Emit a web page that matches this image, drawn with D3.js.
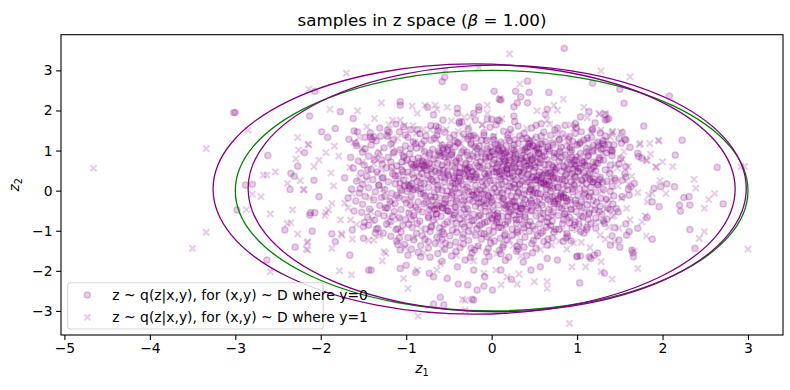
<!DOCTYPE html>
<html><head><meta charset="utf-8">
<script src="https://cdn.jsdelivr.net/npm/d3@7"></script>
<style>
body{margin:0;background:#fff}
svg text{font-family:"DejaVu Sans",sans-serif;fill:#000}
</style>
</head><body>
<svg id="chart" width="790" height="390"></svg>
<script>
// ---------------- data ----------------
const titleText = ["samples in z space (", "\u03B2", " = 1.00)"];
const xTicks = [-5,-4,-3,-2,-1,0,1,2,3];
const yTicks = [-3,-2,-1,0,1,2,3];
const seriesLabels = ["z ~ q(z|x,y), for (x,y) ~ D where y=0", "z ~ q(z|x,y), for (x,y) ~ D where y=1"];
// ellipses: centre x, centre y, radius x, radius y
const ellipseCx = [0, -0.205, 0.065];
const ellipseCy = [0, 0.04, 0.055];
const ellipseRx = [3.0, 3.055, 2.915];
const ellipseRy = [3.0, 3.12, 3.075];
const ellipseColors = ["green", "purple", "purple"];

// samples for y=0 (circles)
const z0Core = [
[-1.12,1.66],[-0.71,1.62],[-0.38,1.68],[0.05,1.64],[0.31,1.61],[0.58,1.67],[0.86,1.63],[1.21,1.69],
[-1.31,1.56],[-0.95,1.52],[-0.62,1.57],[-0.27,1.54],[-0.02,1.58],[0.22,1.53],[0.47,1.56],[0.74,1.51],[0.99,1.57],[1.18,1.54],
[-1.42,1.44],[-1.08,1.47],[-0.84,1.42],[-0.55,1.46],[-0.33,1.41],[-0.09,1.45],[0.14,1.48],[0.38,1.43],[0.61,1.46],[0.83,1.42],[1.05,1.47],[1.27,1.44],
[-1.22,1.36],[-0.98,1.33],[-0.77,1.37],[-0.49,1.32],[-0.21,1.38],[0.02,1.34],[0.19,1.31],[0.33,1.37],[0.52,1.33],[0.69,1.38],[0.91,1.35],[1.12,1.31],[1.33,1.36],[-0.64,1.39],
[-1.35,1.24],[-1.15,1.27],[-0.92,1.22],[-0.71,1.26],[-0.43,1.23],[-0.28,1.28],[-0.06,1.25],[0.11,1.21],[0.27,1.27],[0.44,1.24],[0.63,1.22],[0.79,1.28],[0.95,1.23],[1.08,1.26],[1.24,1.21],[0.36,1.29],
[-1.41,1.14],[-1.18,1.17],[-1.01,1.12],[-0.82,1.16],[-0.58,1.13],[-0.39,1.18],[-0.15,1.11],[0.04,1.16],[0.17,1.13],[0.31,1.18],[0.49,1.12],[0.57,1.17],[0.72,1.14],[0.88,1.11],[1.03,1.17],[1.19,1.13],[1.37,1.15],[-0.24,1.16],
[-1.48,1.04],[-1.26,1.07],[-1.07,1.02],[-0.88,1.06],[-0.69,1.03],[-0.51,1.08],[-0.33,1.01],[-0.17,1.05],[-0.01,1.09],[0.13,1.03],[0.24,1.06],[0.39,1.02],[0.53,1.07],[0.66,1.04],[0.81,1.08],[0.94,1.01],[1.11,1.05],[1.28,1.03],[0.08,1.06],[0.45,1.09],
[-1.51,0.96],[-1.33,0.93],[-1.14,0.97],[-0.96,0.92],[-0.79,0.98],[-0.61,0.94],[-0.47,0.91],[-0.29,0.96],[-0.12,0.93],[0.01,0.98],[0.16,0.94],[0.28,0.91],[0.42,0.97],[0.55,0.93],[0.68,0.99],[0.77,0.92],[0.92,0.96],[1.04,0.93],[1.18,0.97],[1.34,0.94],[-0.04,0.95],[0.61,0.96],
[-1.44,0.86],[-1.21,0.83],[-1.03,0.87],[-0.86,0.82],[-0.73,0.88],[-0.55,0.84],[-0.38,0.81],[-0.22,0.86],[-0.07,0.83],[0.09,0.88],[0.21,0.84],[0.35,0.87],[0.48,0.82],[0.59,0.86],[0.73,0.83],[0.86,0.89],[0.99,0.84],[1.13,0.86],[1.26,0.82],[1.41,0.87],[0.27,0.81],[-0.63,0.89],
[-1.56,0.74],[-1.37,0.77],[-1.18,0.72],[-0.99,0.76],[-0.84,0.73],[-0.68,0.78],[-0.52,0.71],[-0.41,0.75],[-0.26,0.79],[-0.13,0.72],[0.03,0.76],[0.15,0.73],[0.29,0.78],[0.41,0.74],[0.54,0.71],[0.65,0.77],[0.79,0.73],[0.91,0.78],[1.06,0.74],[1.19,0.71],[1.31,0.76],[-0.92,0.79],[0.47,0.77],[0.22,0.75],
[-1.49,0.64],[-1.28,0.67],[-1.11,0.62],[-0.94,0.66],[-0.77,0.63],[-0.63,0.68],[-0.46,0.61],[-0.31,0.65],[-0.18,0.69],[-0.04,0.62],[0.07,0.66],[0.19,0.63],[0.33,0.67],[0.46,0.62],[0.57,0.69],[0.71,0.64],[0.84,0.61],[0.97,0.66],[1.09,0.63],[1.24,0.68],[1.39,0.64],[-0.58,0.64],[0.26,0.61],[0.62,0.65],
[-1.62,0.56],[-1.41,0.53],[-1.23,0.57],[-1.05,0.52],[-0.89,0.58],[-0.71,0.54],[-0.57,0.51],[-0.43,0.56],[-0.28,0.53],[-0.14,0.58],[0.01,0.54],[0.12,0.51],[0.24,0.57],[0.38,0.53],[0.51,0.58],[0.63,0.52],[0.76,0.56],[0.89,0.53],[1.01,0.57],[1.16,0.54],[1.33,0.52],[-0.79,0.57],[0.44,0.55],[0.17,0.56],
[-1.53,0.44],[-1.34,0.47],[-1.16,0.42],[-0.98,0.46],[-0.82,0.43],[-0.66,0.48],[-0.51,0.41],[-0.37,0.45],[-0.23,0.49],[-0.08,0.42],[0.06,0.46],[0.18,0.43],[0.31,0.47],[0.43,0.41],[0.56,0.46],[0.69,0.43],[0.82,0.48],[0.94,0.42],[1.08,0.45],[1.22,0.49],[1.38,0.43],[-0.62,0.44],[0.36,0.45],[0.74,0.46],
[-1.46,0.36],[-1.27,0.33],[-1.09,0.37],[-0.91,0.32],[-0.75,0.38],[-0.59,0.34],[-0.44,0.31],[-0.31,0.36],[-0.17,0.33],[-0.03,0.38],[0.09,0.34],[0.22,0.31],[0.35,0.37],[0.47,0.33],[0.61,0.38],[0.72,0.32],[0.86,0.36],[0.98,0.33],[1.13,0.37],[1.27,0.34],[1.44,0.31],[-0.51,0.37],[0.14,0.36],[0.53,0.35],
[-1.58,0.24],[-1.39,0.27],[-1.21,0.22],[-1.03,0.26],[-0.87,0.23],[-0.71,0.28],[-0.55,0.21],[-0.39,0.25],[-0.25,0.29],[-0.11,0.22],[0.02,0.26],[0.16,0.23],[0.28,0.27],[0.41,0.21],[0.54,0.26],[0.67,0.23],[0.79,0.28],[0.93,0.22],[1.06,0.25],[1.19,0.29],[1.35,0.23],[-0.64,0.26],[0.36,0.24],[0.86,0.25],
[-1.51,0.16],[-1.32,0.13],[-1.13,0.17],[-0.96,0.12],[-0.79,0.18],[-0.63,0.14],[-0.48,0.11],[-0.34,0.16],[-0.19,0.13],[-0.06,0.18],[0.08,0.14],[0.21,0.11],[0.33,0.17],[0.46,0.13],[0.58,0.18],[0.71,0.12],[0.84,0.16],[0.97,0.13],[1.11,0.17],[1.24,0.14],[1.41,0.11],[-0.42,0.17],[0.26,0.16],[0.64,0.15],
[-1.64,0.04],[-1.44,0.07],[-1.25,0.02],[-1.07,0.06],[-0.91,0.03],[-0.74,0.08],[-0.58,0.01],[-0.43,0.05],[-0.29,0.09],[-0.14,0.02],[0.03,0.06],[0.14,0.03],[0.27,0.07],[0.39,0.01],[0.52,0.06],[0.64,0.03],[0.77,0.08],[0.89,0.02],[1.03,0.05],[1.16,0.09],[1.31,0.03],[-0.83,0.05],[0.45,0.04],[0.72,0.06],
[-1.55,-0.06],[-1.36,-0.03],[-1.17,-0.07],[-0.99,-0.02],[-0.83,-0.08],[-0.67,-0.04],[-0.52,-0.01],[-0.38,-0.06],[-0.23,-0.03],[-0.09,-0.08],[0.06,-0.04],[0.19,-0.01],[0.31,-0.06],[0.44,-0.03],[0.57,-0.08],[0.69,-0.02],[0.82,-0.06],[0.95,-0.03],[1.09,-0.07],[1.22,-0.04],[1.39,-0.02],[-0.46,-0.05],[0.12,-0.06],[0.51,-0.05],
[-1.48,-0.14],[-1.29,-0.17],[-1.11,-0.12],[-0.94,-0.16],[-0.78,-0.13],[-0.61,-0.18],[-0.47,-0.11],[-0.32,-0.15],[-0.18,-0.19],[-0.04,-0.12],[0.09,-0.16],[0.23,-0.13],[0.36,-0.17],[0.48,-0.11],[0.62,-0.16],[0.74,-0.13],[0.87,-0.18],[1.01,-0.12],[1.14,-0.15],[1.28,-0.19],[1.43,-0.13],[-0.71,-0.15],[0.29,-0.14],[0.81,-0.15],
[-1.59,-0.26],[-1.38,-0.23],[-1.19,-0.27],[-1.02,-0.22],[-0.86,-0.28],[-0.69,-0.24],[-0.54,-0.21],[-0.41,-0.26],[-0.26,-0.23],[-0.12,-0.28],[0.01,-0.24],[0.14,-0.21],[0.27,-0.26],[0.39,-0.23],[0.53,-0.27],[0.66,-0.22],[0.78,-0.26],[0.92,-0.23],[1.05,-0.28],[1.19,-0.24],[1.34,-0.21],[-0.33,-0.25],[0.46,-0.25],
[-1.51,-0.34],[-1.31,-0.37],[-1.13,-0.32],[-0.95,-0.36],[-0.79,-0.33],[-0.62,-0.38],[-0.48,-0.31],[-0.34,-0.35],[-0.19,-0.39],[-0.06,-0.32],[0.08,-0.36],[0.21,-0.33],[0.34,-0.37],[0.47,-0.31],[0.59,-0.36],[0.73,-0.33],[0.86,-0.38],[0.99,-0.32],[1.12,-0.35],[1.27,-0.39],[1.42,-0.33],[0.15,-0.35],
[-1.43,-0.46],[-1.24,-0.43],[-1.06,-0.47],[-0.89,-0.42],[-0.73,-0.48],[-0.57,-0.44],[-0.42,-0.41],[-0.28,-0.46],[-0.13,-0.43],[0.02,-0.48],[0.15,-0.44],[0.28,-0.41],[0.41,-0.46],[0.54,-0.43],[0.67,-0.47],[0.79,-0.42],[0.93,-0.46],[1.06,-0.43],[1.21,-0.48],[1.36,-0.44],[-0.64,-0.45],[0.35,-0.45],
[-1.52,-0.54],[-1.33,-0.57],[-1.14,-0.52],[-0.97,-0.56],[-0.81,-0.53],[-0.65,-0.58],[-0.51,-0.51],[-0.36,-0.55],[-0.21,-0.59],[-0.07,-0.52],[0.07,-0.56],[0.2,-0.53],[0.33,-0.57],[0.46,-0.51],[0.6,-0.56],[0.72,-0.53],[0.85,-0.58],[0.99,-0.52],[1.14,-0.55],[1.29,-0.59],[-0.43,-0.56],
[-1.45,-0.66],[-1.26,-0.63],[-1.08,-0.67],[-0.91,-0.62],[-0.74,-0.68],[-0.59,-0.64],[-0.44,-0.61],[-0.29,-0.66],[-0.15,-0.63],[0.0,-0.68],[0.13,-0.64],[0.26,-0.61],[0.39,-0.66],[0.52,-0.63],[0.66,-0.67],[0.78,-0.62],[0.91,-0.66],[1.05,-0.63],[1.22,-0.68],[0.19,-0.65],
[-1.37,-0.74],[-1.18,-0.77],[-1.01,-0.72],[-0.84,-0.76],[-0.68,-0.73],[-0.52,-0.78],[-0.37,-0.71],[-0.23,-0.75],[-0.08,-0.79],[0.06,-0.72],[0.19,-0.76],[0.32,-0.73],[0.45,-0.77],[0.58,-0.71],[0.71,-0.76],[0.84,-0.73],[0.98,-0.78],[1.13,-0.72],[1.31,-0.75],
[-1.44,-0.86],[-1.23,-0.83],[-1.04,-0.87],[-0.87,-0.82],[-0.7,-0.88],[-0.55,-0.84],[-0.41,-0.81],[-0.26,-0.86],[-0.11,-0.83],[0.03,-0.88],[0.16,-0.84],[0.29,-0.81],[0.43,-0.86],[0.56,-0.83],[0.69,-0.87],[0.83,-0.82],[0.97,-0.86],[1.16,-0.83],
[-1.33,-0.94],[-1.12,-0.97],[-0.93,-0.92],[-0.77,-0.96],[-0.61,-0.93],[-0.46,-0.98],[-0.32,-0.91],[-0.17,-0.95],[-0.03,-0.99],[0.11,-0.92],[0.24,-0.96],[0.38,-0.93],[0.51,-0.97],[0.64,-0.91],[0.79,-0.96],[0.94,-0.93],[1.11,-0.97],
[-1.27,-1.06],[-1.06,-1.03],[-0.88,-1.07],[-0.72,-1.02],[-0.56,-1.08],[-0.41,-1.04],[-0.27,-1.01],[-0.12,-1.06],[0.02,-1.03],[0.16,-1.08],[0.3,-1.04],[0.44,-1.01],[0.58,-1.06],[0.73,-1.03],[0.88,-1.07],[1.04,-1.02],
[-1.18,-1.14],[-0.98,-1.17],[-0.81,-1.12],[-0.64,-1.16],[-0.49,-1.13],[-0.34,-1.18],[-0.19,-1.11],[-0.05,-1.15],[0.1,-1.19],[0.24,-1.12],[0.39,-1.16],[0.54,-1.13],[0.71,-1.18],[0.89,-1.14],
[-1.11,-1.26],[-0.91,-1.23],[-0.74,-1.27],[-0.58,-1.22],[-0.42,-1.28],[-0.27,-1.24],[-0.12,-1.21],[0.03,-1.26],[0.18,-1.23],[0.33,-1.28],[0.49,-1.24],[0.66,-1.21],[0.84,-1.27],
[-1.02,-1.34],[-0.83,-1.37],[-0.66,-1.32],[-0.49,-1.36],[-0.33,-1.33],[-0.16,-1.38],[-0.01,-1.31],[0.14,-1.35],[0.3,-1.39],[0.47,-1.32],[0.65,-1.36],
[-0.94,-1.46],[-0.74,-1.43],[-0.55,-1.47],[-0.37,-1.42],[-0.2,-1.48],[-0.04,-1.44],[0.13,-1.41],[0.31,-1.46],[0.52,-1.43],
[-0.86,-1.54],[-0.63,-1.57],[-0.42,-1.52],[-0.23,-1.56],[-0.06,-1.53],[0.11,-1.58],[0.29,-1.51],[0.48,-1.55],
[-0.72,-1.66],[-0.47,-1.63],[-0.25,-1.67],[-0.03,-1.64],[0.2,-1.66],[0.41,-1.62],
[-0.58,-1.76],[-0.31,-1.73],[-0.08,-1.77],[0.16,-1.74],[0.37,-1.78]
];
const z0Dense = [
[-0.93,0.41],[-0.88,0.07],[-0.81,0.66],[-0.77,-0.29],[-0.72,0.93],[-0.69,0.24],[-0.64,-0.58],[-0.61,0.51],[-0.57,1.02],[-0.53,-0.13],[-0.5,0.77],[-0.46,0.19],[-0.43,-0.41],[-0.4,1.21],[-0.37,0.58],[-0.34,-0.83],[-0.31,0.02],[-0.28,0.88],[-0.25,0.34],[-0.22,-0.27],[-0.19,1.09],[-0.16,0.62],[-0.13,-0.61],[-0.1,0.11],[-0.07,0.79],[-0.04,0.43],[-0.01,-0.17],[0.02,1.27],[0.05,0.57],[0.08,-0.92],[0.11,0.29],[0.14,0.92],[0.17,-0.38],[0.2,0.69],[0.23,0.08],[0.26,1.14],[0.29,-0.72],[0.32,0.47],[0.35,0.81],[0.38,-0.09],[0.41,1.31],[0.44,0.22],[0.47,-0.49],[0.5,0.64],[0.53,1.02],[0.56,-0.21],[0.59,0.37],[0.62,0.86],[0.65,-0.78],[0.68,0.14],[0.71,1.19],[0.74,0.52],[0.77,-0.33],[0.8,0.97],[0.83,0.29],[0.86,-0.57],[0.89,0.71],[0.92,1.07],[0.95,0.04],[0.98,-0.24],[1.01,0.48],[1.04,1.21],[1.07,-0.66],[1.1,0.33],[1.13,0.88],[1.16,-0.06],[1.2,0.59],[1.25,1.12],[1.3,0.21],
[-1.17,0.58],[-1.09,-0.17],[-1.03,0.83],[-0.98,0.14],[-0.94,-0.72],[-0.89,1.17],[-0.85,0.36],[-0.8,-0.06],[-0.76,0.71],[-0.71,-0.91],[-0.67,1.31],[-0.63,0.03],[-0.6,0.86],[-0.56,-0.34],[-0.52,0.47],[-0.49,1.14],[-0.45,-0.69],[-0.42,0.72],[-0.39,0.08],[-0.35,0.96],[-0.32,-0.46],[-0.29,0.52],[-0.26,1.36],[-0.23,-0.11],[-0.2,0.27],[-0.17,0.84],[-0.14,-0.87],[-0.11,0.56],[-0.08,-0.38],[-0.05,1.04],[-0.02,0.24],[0.01,0.67],[0.04,-0.62],[0.07,1.13],[0.1,0.41],[0.13,-0.19],[0.16,0.74],[0.19,1.39],[0.22,-0.53],[0.25,0.36],[0.28,0.97],[0.31,-0.03],[0.34,0.58],[0.37,-0.84],[0.4,0.83],[0.43,1.16],[0.46,0.03],[0.49,0.49],[0.52,-0.37],[0.55,0.93],[0.58,1.36],[0.61,0.21],[0.64,-0.11],[0.67,0.66],[0.7,-0.61],[0.73,0.94],[0.76,0.31],[0.79,1.26],[0.82,-0.44],[0.85,0.58],[0.88,0.12],[0.91,-0.81],[0.94,0.83],[0.97,0.36],[1.0,1.14],[1.03,-0.38],[1.06,0.69],[1.09,0.04],[1.12,-0.91],[1.15,0.44],[1.19,1.01],[1.23,-0.29],[1.27,0.77],
[-1.28,0.31],[-1.22,-0.43],[-1.15,0.94],[-1.1,-0.95],[-1.04,0.47],[-1.0,-0.31],[-0.95,1.05],[-0.91,0.63],[-0.86,-0.47],[-0.83,0.19],[-0.79,1.24],[-0.74,-0.64],[-0.7,0.42],[-0.66,-0.16],[-0.62,0.98],[-0.58,-1.03],[-0.55,0.32],[-0.51,-0.51],[-0.47,0.89],[-0.44,1.39],[-0.41,-0.22],[-0.38,0.44],[-0.33,-1.09],[-0.3,0.69],[-0.27,-0.02],[-0.24,1.19],[-0.21,-0.74],[-0.18,0.41],[-0.15,-0.31],[-0.12,0.97],[-0.09,-1.08],[-0.06,0.36],[-0.03,0.86],[0.0,-0.29],[0.03,0.47],[0.06,-0.79],[0.09,0.98],[0.12,0.16],[0.15,-1.12],[0.18,0.54],[0.21,1.24],[0.24,-0.27],[0.27,0.73],[0.3,-0.98],[0.33,0.14],[0.36,1.02],[0.39,-0.61],[0.42,0.39],[0.45,0.87],[0.48,-0.88],[0.51,0.26],[0.54,-0.06],[0.57,0.78],[0.6,-1.01],[0.63,0.44],[0.66,1.09],[0.69,-0.27],[0.72,0.59],[0.75,-0.96],[0.78,0.08],[0.81,0.83],[0.84,-0.18],[0.87,0.41],[0.9,1.28],[0.93,-0.47],[0.96,0.16],[0.99,0.76],[1.02,-0.83],[1.05,0.27],[1.08,-0.11],[1.11,0.96],[1.14,-0.58],[1.18,0.21],[1.22,0.69],[1.26,-0.52],
[-1.72,0.32],[-1.68,-0.18],[-1.65,0.83],[-1.61,-0.51],[-1.58,1.12],[-1.54,0.05],[-1.49,-0.79],[-1.45,0.52],[-1.4,1.28],[-1.35,-0.96],[-1.32,0.14],[-1.29,0.77],[-1.25,-0.14],[-1.2,1.46],[-1.16,-0.64],[-1.13,0.37],[-1.08,-1.18],[-1.05,0.72],[-1.01,1.39],[-0.97,-0.84],[-0.92,0.01],[-0.87,1.52],[-0.78,-1.21],[-0.65,1.61],[-0.54,-1.31],[-0.35,1.71],[-0.24,-1.43],[-0.05,1.78],[0.09,-1.49],[0.27,1.72],[0.38,-1.41],[0.52,1.63],[0.61,-1.27],[0.77,1.56],[0.87,-1.18],[0.98,1.43],[1.08,-1.06],[1.17,1.33],[1.22,-0.94],[1.3,1.18],[1.35,-0.71],[1.41,0.97],[1.46,-0.45],[1.49,0.66],[1.53,-0.15],[1.57,0.34],[1.6,0.03],[1.45,0.26],[1.52,1.18],[1.44,-0.92]
];
const z0Clumps = [
[0.04,0.91],[0.12,0.86],[0.17,0.97],[0.08,1.02],[-0.02,0.84],[0.21,0.89],[0.14,0.79],[0.01,0.97],[0.26,1.01],[0.09,0.71],
[-0.33,0.42],[-0.27,0.36],[-0.38,0.31],[-0.22,0.47],[-0.31,0.53],[-0.41,0.46],[-0.19,0.33],[-0.36,0.24],[-0.26,0.58],[-0.44,0.37],
[0.58,0.31],[0.64,0.24],[0.55,0.39],[0.69,0.36],[0.61,0.18],[0.52,0.27],[0.72,0.29],[0.66,0.43],[0.57,0.21],[0.49,0.34],
[-0.79,0.62],[-0.84,0.55],[-0.73,0.68],[-0.88,0.66],[-0.76,0.51],[-0.69,0.59],[-0.92,0.58],[-0.81,0.74],
[0.28,-0.38],[0.34,-0.44],[0.23,-0.47],[0.37,-0.33],[0.31,-0.52],[0.19,-0.36],[0.42,-0.41],[0.26,-0.29],
[0.98,0.62],[1.04,0.55],[0.93,0.67],[1.08,0.71],[1.01,0.47],[0.91,0.53],[1.12,0.61],[0.97,0.76],
[-0.12,-0.08],[-0.04,-0.14],[-0.17,-0.03],[-0.07,0.02],[-0.15,-0.19],[0.01,-0.06],[-0.21,-0.11],[-0.09,-0.24],
[0.48,1.12],[0.55,1.05],[0.44,1.18],[0.59,1.16],[0.51,0.98],[0.41,1.07],
[-0.58,-0.42],[-0.64,-0.35],[-0.53,-0.49],[-0.67,-0.47],[-0.55,-0.31],[-0.71,-0.39],
[0.78,-0.21],[0.84,-0.14],[0.74,-0.28],[0.88,-0.26],[0.81,-0.09],[0.71,-0.16],
[-0.52,1.01],[-0.46,0.95],[-0.57,1.07],[-0.43,1.09],[-0.55,0.92],
[0.18,0.52],[0.24,0.45],[0.13,0.58],[0.27,0.56],[0.21,0.41],[0.09,0.49],
[-1.02,0.12],[-0.96,0.05],[-1.07,0.19],[-0.94,0.17],[-1.05,0.01],
[0.01,-0.71],[0.07,-0.64],[-0.05,-0.77],[0.09,-0.79],[-0.03,-0.62],
[1.19,0.22],[1.24,0.15],[1.15,0.28],[1.27,0.27],
[0.38,0.71],[0.44,0.66],[0.34,0.77],[0.47,0.78],[0.41,0.62],
[-0.18,1.31],[-0.12,1.26],[-0.24,1.37],[-0.09,1.38]
];
const z0Outer = [
[-3.02,1.95],[-3.0,1.95],[-2.13,1.86],[-2.19,0.95],[-2.62,0.88],[-2.27,0.61],[-2.35,0.43],[-2.31,0.36],[-2.88,0.14],[-2.8,0.16],[-2.36,0.03],[-2.98,-0.48],[-2.42,-0.98],[-2.3,-1.41],[-2.63,-1.73],[-2.13,-0.61],
[-2.07,2.48],[-1.77,1.97],[-1.62,1.8],[-1.07,2.22],[-1.07,2.13],[-0.75,2.08],[-0.4,2.05],[-0.4,1.93],[-0.58,2.72],[-0.55,2.83],[-0.32,2.58],[-0.15,2.09],[-0.15,2.01],[0.03,2.48],[0.11,2.26],[0.28,2.48],[0.34,2.34],[0.42,2.73],[0.44,2.45],[0.42,2.19],[0.67,2.45],[0.26,2.09],[0.26,1.86],[0.3,2.19],[0.65,2.03],[0.63,1.9],[0.0,1.78],[0.07,1.76],[0.09,1.74],[0.09,2.28],[-0.21,1.93],[-0.19,1.76],[-0.68,1.89],[-0.57,1.76],[-0.38,1.72],[-1.99,1.47],[-1.83,1.55],[-1.92,1.33],[-1.67,1.28],[-1.59,1.18],[-1.61,1.49],[-1.57,1.47],[-1.03,1.59],[-1.22,1.51],[-0.63,1.49],[-1.3,1.36],[-1.48,1.33],[-1.38,1.34],[-1.42,1.34],
[0.85,3.55],[1.18,2.68],[1.5,2.53],[2.08,2.36],[1.55,2.18],[1.14,1.97],[1.33,1.9],[1.35,1.78],[1.04,1.84],[1.78,1.61],[1.53,1.45],[1.56,1.28],[2.23,1.26],[1.62,1.08],[1.72,0.85],[1.76,0.81],[2.15,0.89],[2.64,0.58],[1.3,1.24],[1.32,1.14],[1.43,1.14],[1.41,1.01],[1.18,1.51],[0.98,1.68],
[2.31,-0.15],[2.25,-0.17],[2.32,-0.36],[2.71,-0.33],[2.2,-0.36],[2.21,-0.51],[2.32,-0.97],[2.38,-1.44],[2.14,0.1],[2.05,0.17],[1.98,0.1],[1.96,-0.4],[1.82,-0.67],[1.71,-0.94],[1.61,-1.02],[1.88,-1.21],[1.64,-1.48],[1.65,-1.55],[1.5,-1.41],[1.39,-1.36],[1.49,-1.23],[1.41,-1.13],[1.32,-2.06],[1.03,-2.3],[1.16,-1.69],[1.0,-1.65],[0.77,-1.73],[0.65,-1.69],
[-0.6,-2.66],[-0.23,-2.71],[-0.39,-2.33],[-0.28,-2.35],[-0.17,-2.48],[-0.09,-2.38],[0.01,-2.48],[-0.68,-2.15],[-0.89,-2.04],[-1.0,-1.86],[-1.07,-1.94],[-1.44,-1.98],[-1.41,-1.98],[-1.66,-1.61],[-1.63,-0.98],[-1.87,-1.08],[-1.83,-1.27],[-1.5,-0.9],[-1.5,-1.19],[-2.1,-1.01],[-1.36,-1.06],[-1.07,-1.48],[-1.1,-1.34],[-0.98,-1.61],[-0.83,-1.65],[-0.73,-2.06],[-0.52,-2.19],[-0.21,-1.98],[0.11,-1.98],[0.23,-2.21],[0.46,-1.98],[0.57,-1.9],[-0.4,-1.9],[-0.08,-2.15],[-2.12,-0.55],[-2.07,-0.55],[-2.08,0.26],[-2.02,-0.15],[-0.68,-2.83],[-0.56,-2.85],[-0.21,-2.73],
[1.71,0.93],[1.9,0.06],[1.88,-0.28],[1.66,-1.65],[1.56,0.43],[1.53,0.26],[1.63,0.1],[1.67,0.18],[1.61,-0.11],[1.48,-0.53],[1.39,-0.48],[1.32,-0.82],[1.57,-0.83],[1.58,-1.11],[1.2,-1.61],[1.24,-1.56],[1.14,-1.65],[1.0,-1.63],[1.04,-1.63],[0.93,-1.25],[1.37,1.8],[1.33,1.76],[1.49,1.3],[1.57,1.26],[1.3,1.05],[1.39,1.01],[1.51,0.81],[1.57,0.6]
];

// samples for y=1 (crosses)
const z1Core = [
[-1.85,0.12],[-1.72,-0.31],[-1.66,0.58],[-1.58,-0.84],[-1.52,1.05],[-1.47,0.27],[-1.41,-0.52],[-1.36,0.81],[-1.31,-1.12],[-1.27,0.04],[-1.22,1.38],[-1.18,-0.23],[-1.14,0.49],[-1.09,-0.71],[-1.05,0.96],[-1.01,-1.42],[-0.97,0.18],[-0.93,-0.38],[-0.9,1.21],[-0.86,0.63],[-0.83,-0.95],[-0.79,0.31],[-0.76,-0.12],[-0.72,1.52],[-0.69,-0.61],[-0.66,0.77],[-0.62,-1.28],[-0.59,0.09],[-0.56,0.44],[-0.53,-0.34],[-0.5,1.07],[-0.47,-0.82],[-0.44,0.22],[-0.41,-1.61],[-0.38,0.68],[-0.35,-0.07],[-0.32,1.33],[-0.29,-0.49],[-0.26,0.37],[-0.23,-1.05],[-0.2,0.91],[-0.17,0.02],[-0.14,-0.67],[-0.11,1.64],[-0.08,0.53],[-0.05,-0.27],[-0.02,-1.19],[0.01,0.81],[0.04,0.14],[0.07,-0.58],[0.1,1.18],[0.13,-0.91],[0.16,0.42],[0.19,-0.16],[0.22,1.46],[0.25,-1.37],[0.28,0.66],[0.31,0.05],[0.34,-0.42],[0.37,0.97],[0.4,-0.76],[0.43,0.28],[0.46,1.29],[0.49,-0.09],[0.52,-1.14],[0.55,0.58],[0.58,0.12],[0.61,-0.53],[0.64,1.02],[0.67,-0.87],[0.7,0.35],[0.73,-0.21],[0.76,1.41],[0.79,-1.26],[0.82,0.74],[0.85,0.01],[0.88,-0.64],[0.91,1.13],[0.94,0.46],[0.97,-0.36],[1.0,-0.98],[1.03,0.87],[1.06,0.19],[1.09,-0.51],[1.12,1.27],[1.15,-0.14],[1.18,0.62],[1.21,-0.79],[1.24,0.31],[1.27,-1.11],[1.31,0.94],[1.35,-0.28],[1.39,0.52],[1.43,-0.62],[1.48,0.11],[1.53,0.78],[1.58,-0.44],[1.64,0.36],[1.71,-0.05],
[-1.95,-0.62],[-1.79,0.86],[-1.63,-0.07],[-1.55,1.33],[-1.44,-1.24],[-1.34,0.42],[-1.25,-0.44],[-1.16,1.12],[-1.07,-0.09],[-0.99,0.71],[-0.91,-1.17],[-0.84,0.02],[-0.78,0.94],[-0.71,-0.46],[-0.64,1.28],[-0.57,-0.93],[-0.51,0.59],[-0.45,-0.18],[-0.39,1.48],[-0.33,-0.71],[-0.27,0.16],[-0.21,1.02],[-0.15,-1.41],[-0.09,0.33],[-0.03,-0.43],[0.03,1.36],[0.09,-0.02],[0.15,0.73],[0.21,-1.23],[0.27,0.24],[0.33,-0.62],[0.39,1.09],[0.45,-0.31],[0.51,0.84],[0.57,-1.47],[0.63,0.17],[0.69,-0.44],[0.75,0.61],[0.81,-0.11],[0.87,1.32],[0.93,-0.72],[0.99,0.26],[1.05,-1.29],[1.11,0.73],[1.17,-0.37],[1.23,1.05],[1.29,-0.02],[1.37,-0.91],[1.45,0.67],[1.52,-0.19],
[-1.38,0.67],[-1.21,-0.86],[-1.12,0.29],[-0.96,-0.55],[-0.88,1.43],[-0.81,0.53],[-0.74,-0.22],[-0.67,0.12],[-0.61,-1.09],[-0.54,0.86],[-0.48,-0.61],[-0.42,0.34],[-0.36,1.17],[-0.3,-0.31],[-0.24,0.64],[-0.18,-0.86],[-0.12,0.27],[-0.06,1.26],[0.0,-0.51],[0.06,0.47],[0.12,-0.24],[0.18,0.98],[0.24,-0.71],[0.3,0.39],[0.36,-1.02],[0.42,0.71],[0.48,0.02],[0.54,1.21],[0.6,-0.33],[0.66,0.49],[0.72,-0.98],[0.78,0.22],[0.84,0.93],[0.9,-0.18],[0.96,0.63],[1.02,-0.67],[1.08,0.41],[1.14,1.08],[1.2,-0.46],[1.26,0.18],[-1.02,1.63],[-0.47,1.74],[0.12,1.79],[0.68,1.66],[-1.68,-0.43],[-1.51,0.71],[-1.26,-1.52],[-0.79,-1.55],[-0.21,-1.75],[0.34,-1.63],[0.88,-1.46],[1.33,-1.21],[1.62,-0.73],[1.55,0.97],[1.41,1.42],[-1.88,0.44],[-1.76,-1.07],[-1.61,1.21],[-0.05,1.93],[-0.6,-1.82],
[-1.31,0.96],[-1.17,-0.34],[-1.06,0.62],[-0.95,-0.21],[-0.82,1.08],[-0.73,0.27],[-0.65,-0.77],[-0.55,0.62],[-0.46,-0.04],[-0.37,0.83],[-0.27,-0.58],[-0.19,0.47],[-0.09,1.11],[0.0,0.08],[0.08,0.68],[0.17,-0.82],[0.26,0.91],[0.35,0.31],[0.44,-0.23],[0.53,0.79],[0.62,-0.68],[0.71,0.47],[0.8,1.09],[0.89,-0.29],[0.98,0.56],[1.07,-0.89],[1.16,0.32],[1.25,0.87],[1.34,-0.45],[-1.42,-0.17],[-1.29,0.53],[-1.2,-0.68],[-1.1,1.31],[-1.01,0.37],[-0.9,-0.63],[-0.8,0.81],[-0.7,-0.37],[-0.6,1.16],[-0.5,0.27],[-0.4,-0.96],[-0.3,0.57],[-0.2,-0.09],[-0.1,0.73],[0.02,-0.33],[0.11,1.03],[0.2,0.22],[0.29,-1.09],[0.38,0.54],[0.47,1.27],[0.56,-0.57],[0.65,0.07],[0.74,0.87],[0.83,-0.98],[0.92,0.31],[1.01,1.17],[1.1,-0.24],[1.19,0.51],[1.28,-0.78],[1.4,0.27],[-1.55,0.31],[-1.4,-0.73],[-0.58,-1.44],[0.06,-1.57],[0.7,-1.36],[1.15,-1.42],[-0.92,1.62],[-0.28,1.59],[0.41,1.55],[0.99,1.61],[1.6,0.16]
];
const z1Outer = [
[-2.85,1.51],[-3.34,1.05],[-4.66,0.56],[-2.14,2.53],[-2.27,1.33],[-2.15,1.16],[-2.26,1.01],[-2.29,0.79],[-2.67,0.39],[-2.63,0.39],[-2.53,0.47],[-2.8,-0.09],[-2.7,-0.15],[-2.39,0.18],[-2.24,0.25],[-2.2,0.03],[-2.87,-0.47],[-2.59,-0.58],[-2.33,-0.48],[-2.39,-0.82],[-2.35,-0.8],[-2.27,-1.08],[-2.16,-1.3],[-2.17,-1.46],[-3.34,-1.04],[-3.5,-1.44],[-2.59,-2.02],
[-1.7,2.93],[-1.89,2.03],[-1.57,1.99],[-1.29,2.19],[-0.93,2.11],[-0.87,1.93],[-0.78,2.13],[-0.66,2.13],[-0.64,2.03],[-0.52,2.08],[-0.32,1.83],[-0.54,3.01],[-0.15,3.07],[0.21,3.41],[0.1,2.3],[0.33,2.66],[0.53,1.99],[0.65,1.76],[-0.05,2.13],[-0.25,1.84],[-0.11,1.64],[-2.14,1.14],[-1.84,1.11],[-1.94,0.95],[-2.02,0.76],[-2.08,0.6],[-1.46,1.59],[-1.37,1.8],[-1.2,1.64],[-1.16,1.76],[-1.07,1.76],[-0.8,1.53],[-0.53,1.53],
[1.28,2.99],[1.62,2.84],[0.84,2.28],[0.73,2.13],[0.77,2.01],[1.08,2.08],[1.26,1.9],[1.12,1.82],[1.28,1.51],[1.42,1.47],[1.95,1.26],[1.85,1.18],[1.73,1.15],[1.81,0.75],[1.92,0.6],[2.0,0.72],[2.12,0.6],[2.92,0.6],[2.96,0.6],[1.39,1.34],[0.96,1.55],[0.93,1.64],
[2.37,0.28],[2.39,0.06],[2.61,-0.07],[2.54,-0.22],[2.49,-0.44],[2.49,-1.02],[2.43,-1.19],[3.0,-1.46],[1.97,0.25],[2.04,-0.07],[1.88,-0.07],[1.82,-0.28],[1.76,-0.78],[1.81,-1.13],[1.71,-1.94],[1.41,-2.21],[1.28,-2.02],[0.65,-2.27],[0.65,-2.44],[1.1,-1.9],[0.94,-1.9],[1.49,-0.94],
[-0.34,-2.71],[-0.86,-3.13],[-0.98,-2.44],[0.11,-2.35],[0.3,-2.33],[-1.03,-2.19],[-1.28,-1.75],[-1.64,-2.1],[-1.78,-2.0],[-1.63,-1.21],[-1.75,-1.11],[-1.87,-1.44],[-2.15,-1.27],[-2.15,-1.48],[-1.38,-1.23],[-1.24,-1.56],[-0.87,-1.98],[-0.64,-1.98],[0.18,-2.15],[0.05,-1.98],[0.5,-2.27],[-0.09,-2.06],[0.32,-2.08],[-1.91,-0.48],[-1.87,-0.32],[-2.2,0.02],[-1.94,-0.55],[-1.77,-0.73],[-1.65,-0.73],[-0.31,-2.73],[0.91,-3.31],[-0.31,-2.98],
[1.74,1.18],[1.96,1.24],[1.86,0.91],[1.82,0.76],[1.93,0.58],[1.84,-0.11],[1.8,-0.63],[1.67,-1.5],[1.6,0.6],[1.37,-0.23],[1.41,-0.65],[1.44,-1.27],[1.28,-1.77],[0.96,-1.31],[1.33,1.93],[1.26,1.93],[1.51,1.47],[1.41,1.47],[1.26,1.18],[1.35,1.26],[1.16,1.47],[1.47,0.56]
];
const z0 = z0Core.concat(z0Dense, z0Clumps, z0Outer);
const z1 = z1Core.concat(z1Outer);

// ---------------- drawing ----------------
const svg = d3.select("#chart");
const L = 61, R = 783, T = 34.7, B = 335;
const x = d3.scaleLinear().domain([-5.04, 3.41]).range([L, R]);
const y = d3.scaleLinear().domain([-3.6, 3.89]).range([B, T]);
const purple = "#800080";
const fmt = d => (d < 0 ? "\u2212" + Math.abs(d) : String(d));

svg.append("rect").attr("width", 790).attr("height", 390).attr("fill", "#fff");
svg.append("defs").append("clipPath").attr("id", "clip")
  .append("rect").attr("x", L).attr("y", T).attr("width", R - L).attr("height", B - T);

const plot = svg.append("g").attr("clip-path", "url(#clip)");

plot.append("g").selectAll("circle").data(z0).join("circle")
  .attr("cx", d => x(d[0])).attr("cy", d => y(d[1])).attr("r", 3.1)
  .attr("fill", purple).attr("fill-opacity", 0.2)
  .attr("stroke", purple).attr("stroke-opacity", 0.2).attr("stroke-width", 1.5);

const crossPath = d3.symbol().type(d3.symbolX).size(27)();
plot.append("g").selectAll("path").data(z1).join("path")
  .attr("d", crossPath)
  .attr("transform", d => `translate(${x(d[0])},${y(d[1])})`)
  .attr("fill", "none").attr("stroke", purple).attr("stroke-opacity", 0.2).attr("stroke-width", 2);

plot.append("g").selectAll("ellipse").data(ellipseCx).join("ellipse")
  .attr("cx", (d, i) => x(ellipseCx[i]))
  .attr("cy", (d, i) => y(ellipseCy[i]))
  .attr("rx", (d, i) => x(ellipseCx[i] + ellipseRx[i]) - x(ellipseCx[i]))
  .attr("ry", (d, i) => y(ellipseCy[i]) - y(ellipseCy[i] + ellipseRy[i]))
  .attr("fill", "none").attr("stroke", (d, i) => ellipseColors[i]).attr("stroke-width", 1.3);

// axes
const xAxis = svg.append("g").attr("transform", `translate(0,${B})`)
  .call(d3.axisBottom(x).tickValues(xTicks).tickFormat(fmt).tickSize(4.9).tickPadding(3.6));
const yAxis = svg.append("g").attr("transform", `translate(${L},0)`)
  .call(d3.axisLeft(y).tickValues(yTicks).tickFormat(fmt).tickSize(4.9).tickPadding(3.6));
[xAxis, yAxis].forEach(a => {
  a.select(".domain").remove();
  a.selectAll("line").attr("stroke", "#000").attr("stroke-width", 1.1);
  a.selectAll("text").attr("font-size", "13.9px").attr("font-family", "DejaVu Sans").attr("fill", "#000");
});

svg.append("rect").attr("x", L).attr("y", T).attr("width", R - L).attr("height", B - T)
  .attr("fill", "none").attr("stroke", "#000").attr("stroke-width", 1.1);

// title
const title = svg.append("text").attr("x", (L + R) / 2).attr("y", 26)
  .attr("text-anchor", "middle").attr("font-size", "16.7px");
title.append("tspan").text(titleText[0]);
title.append("tspan").attr("font-style", "italic").text(titleText[1]);
title.append("tspan").text(titleText[2]);

// axis labels
const xl = svg.append("text").attr("x", (L + R) / 2).attr("y", 373)
  .attr("text-anchor", "middle").attr("font-size", "13.9px");
xl.append("tspan").attr("font-style", "italic").text("z");
xl.append("tspan").attr("font-size", "9.7px").attr("dy", 3).text("1");

const yl = svg.append("text").attr("transform", `translate(19,${(T + B) / 2}) rotate(-90)`)
  .attr("text-anchor", "middle").attr("font-size", "13.9px");
yl.append("tspan").attr("font-style", "italic").text("z");
yl.append("tspan").attr("font-size", "9.7px").attr("dy", 3).text("2");

// legend
const lg = svg.append("g");
lg.append("rect").attr("x", 67.7).attr("y", 282.7).attr("width", 255.5).attr("height", 46.3)
  .attr("rx", 2.8).attr("fill", "#fff").attr("fill-opacity", 0.8)
  .attr("stroke", "#cccccc").attr("stroke-opacity", 0.8).attr("stroke-width", 1.1);
const rowsY = [295, 317.3];
lg.append("circle").attr("cx", 87.3).attr("cy", rowsY[0]).attr("r", 3.1)
  .attr("fill", purple).attr("fill-opacity", 0.2)
  .attr("stroke", purple).attr("stroke-opacity", 0.2).attr("stroke-width", 1.5);
lg.append("path").attr("d", crossPath).attr("transform", `translate(87.3,${rowsY[1]})`)
  .attr("fill", "none").attr("stroke", purple).attr("stroke-opacity", 0.2).attr("stroke-width", 2);
lg.selectAll("text.lab").data(seriesLabels).join("text").attr("class", "lab")
  .attr("x", 112.3).attr("y", (d, i) => rowsY[i] + 5).attr("font-size", "13.9px").text(d => d);
</script>
</body></html>
